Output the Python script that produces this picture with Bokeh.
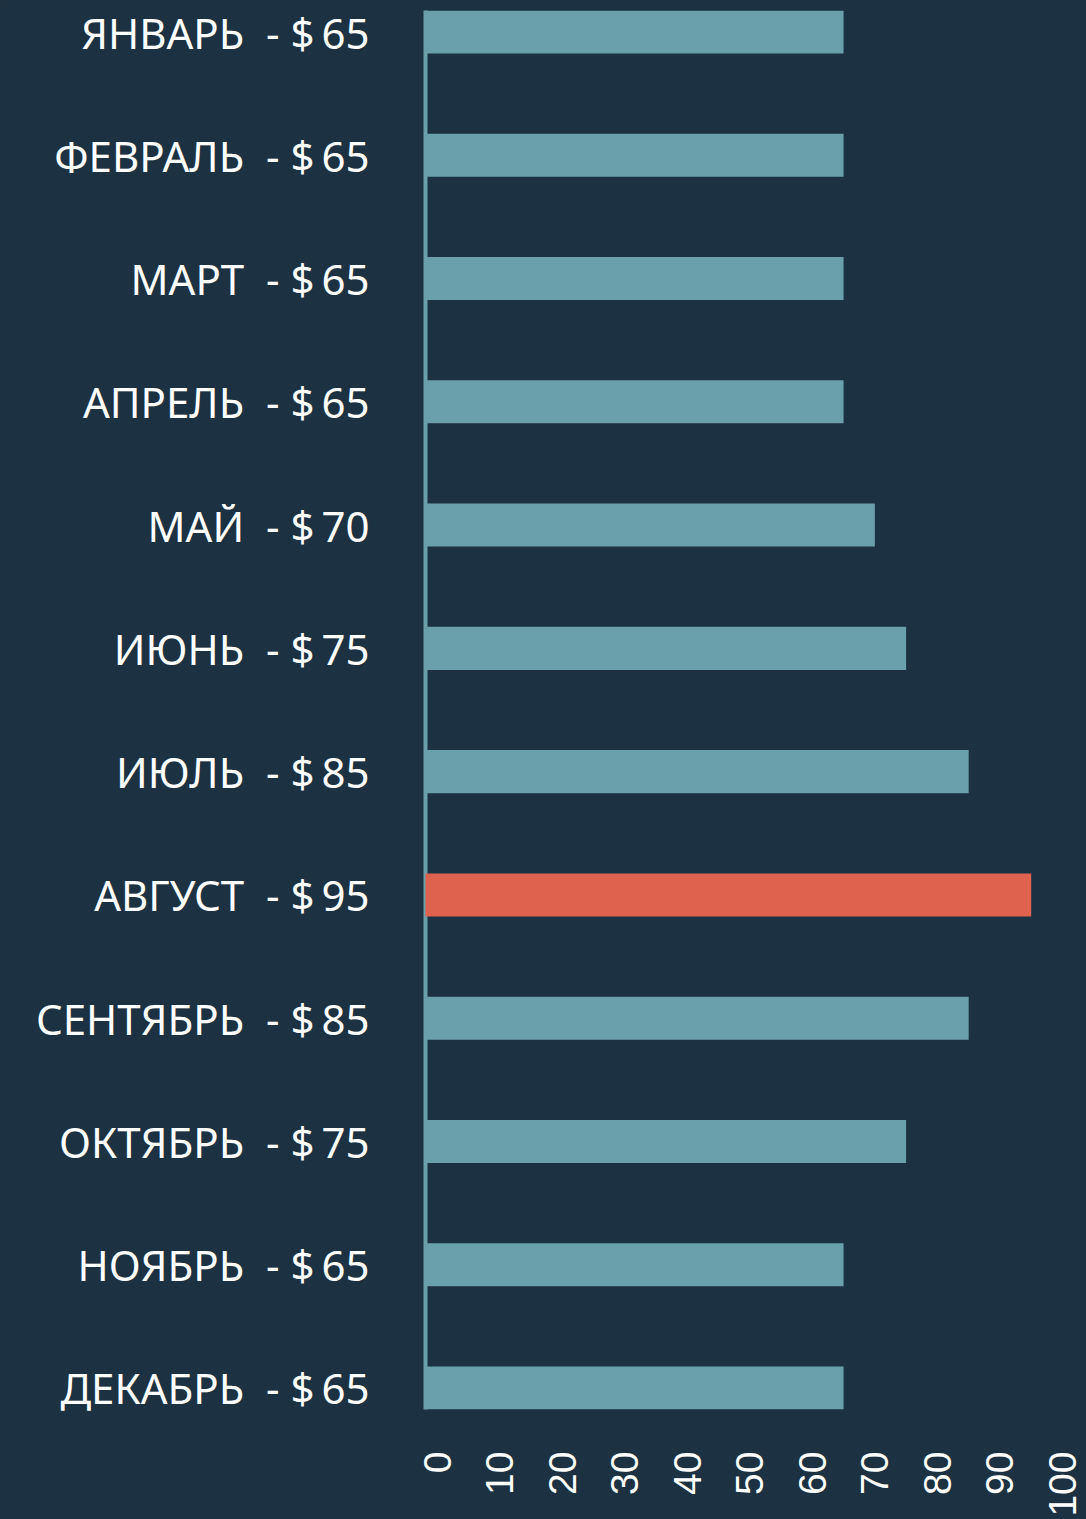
from bokeh.plotting import figure
from bokeh.models import Range1d, FixedTicker
from bokeh.embed import file_html
from bokeh.resources import INLINE

months = ["ЯНВАРЬ", "ФЕВРАЛЬ", "МАРТ", "АПРЕЛЬ", "МАЙ", "ИЮНЬ",
          "ИЮЛЬ", "АВГУСТ", "СЕНТЯБРЬ", "ОКТЯБРЬ", "НОЯБРЬ", "ДЕКАБРЬ"]
prices = [65, 65, 65, 65, 70, 75, 85, 95, 85, 75, 65, 65]
highlight = "АВГУСТ"
x_ticks = [0, 10, 20, 30, 40, 50, 60, 70, 80, 90, 100]

BG = "#1c3141"
TEAL = "#6a9fac"
RED = "#de624e"

positions = list(range(len(months)))
labels = {i: f"{m}\u00a0 - $\u2009{v}" for i, (m, v) in enumerate(zip(months, prices))}

x_start, x_end = -1.84, 101.6

p = figure(width=1086, height=1519, output_backend="svg", toolbar_location=None,
           x_range=Range1d(x_start, x_end),
           y_range=Range1d(len(months) - 1 + 0.1745, -0.1745),
           min_border_left=425, min_border_right=14,
           min_border_top=10, min_border_bottom=110)
p.styles = {"background-color": BG}
p.background_fill_color = BG
p.border_fill_color = BG
p.outline_line_color = None
p.grid.visible = False

norm_y = [y for y, m in zip(positions, months) if m != highlight]
norm_v = [v for v, m in zip(prices, months) if m != highlight]
hi_y = [y for y, m in zip(positions, months) if m == highlight]
hi_v = [v for v, m in zip(prices, months) if m == highlight]

p.hbar(y=norm_y, right=norm_v, left=x_start, height=0.349,
       fill_color=TEAL, line_color=None)
p.hbar(y=hi_y, right=hi_v, left=x_start, height=0.349,
       fill_color=RED, line_color=None, level="annotation")

# y axis
ya = p.yaxis[0]
ya.ticker = FixedTicker(ticks=positions)
ya.major_label_overrides = labels
ya.axis_line_color = TEAL
ya.axis_line_width = 4
ya.major_tick_line_color = None
ya.minor_tick_line_color = None
ya.major_tick_out = 0
ya.major_label_text_color = "white"
ya.major_label_text_font = "Noto Sans"
ya.major_label_text_font_size = "42px"
ya.major_label_standoff = 56

# x axis
xa = p.xaxis[0]
xa.ticker = FixedTicker(ticks=x_ticks)
xa.axis_line_color = None
xa.major_tick_line_color = None
xa.minor_tick_line_color = None
xa.major_tick_out = 0
xa.major_label_orientation = 3.14159265 / 2
xa.major_label_text_color = "white"
xa.major_label_text_font = "Liberation Sans"
xa.major_label_text_font_size = "39px"
xa.major_label_standoff = 42

open("out.html", "w").write(file_html(p, INLINE))
